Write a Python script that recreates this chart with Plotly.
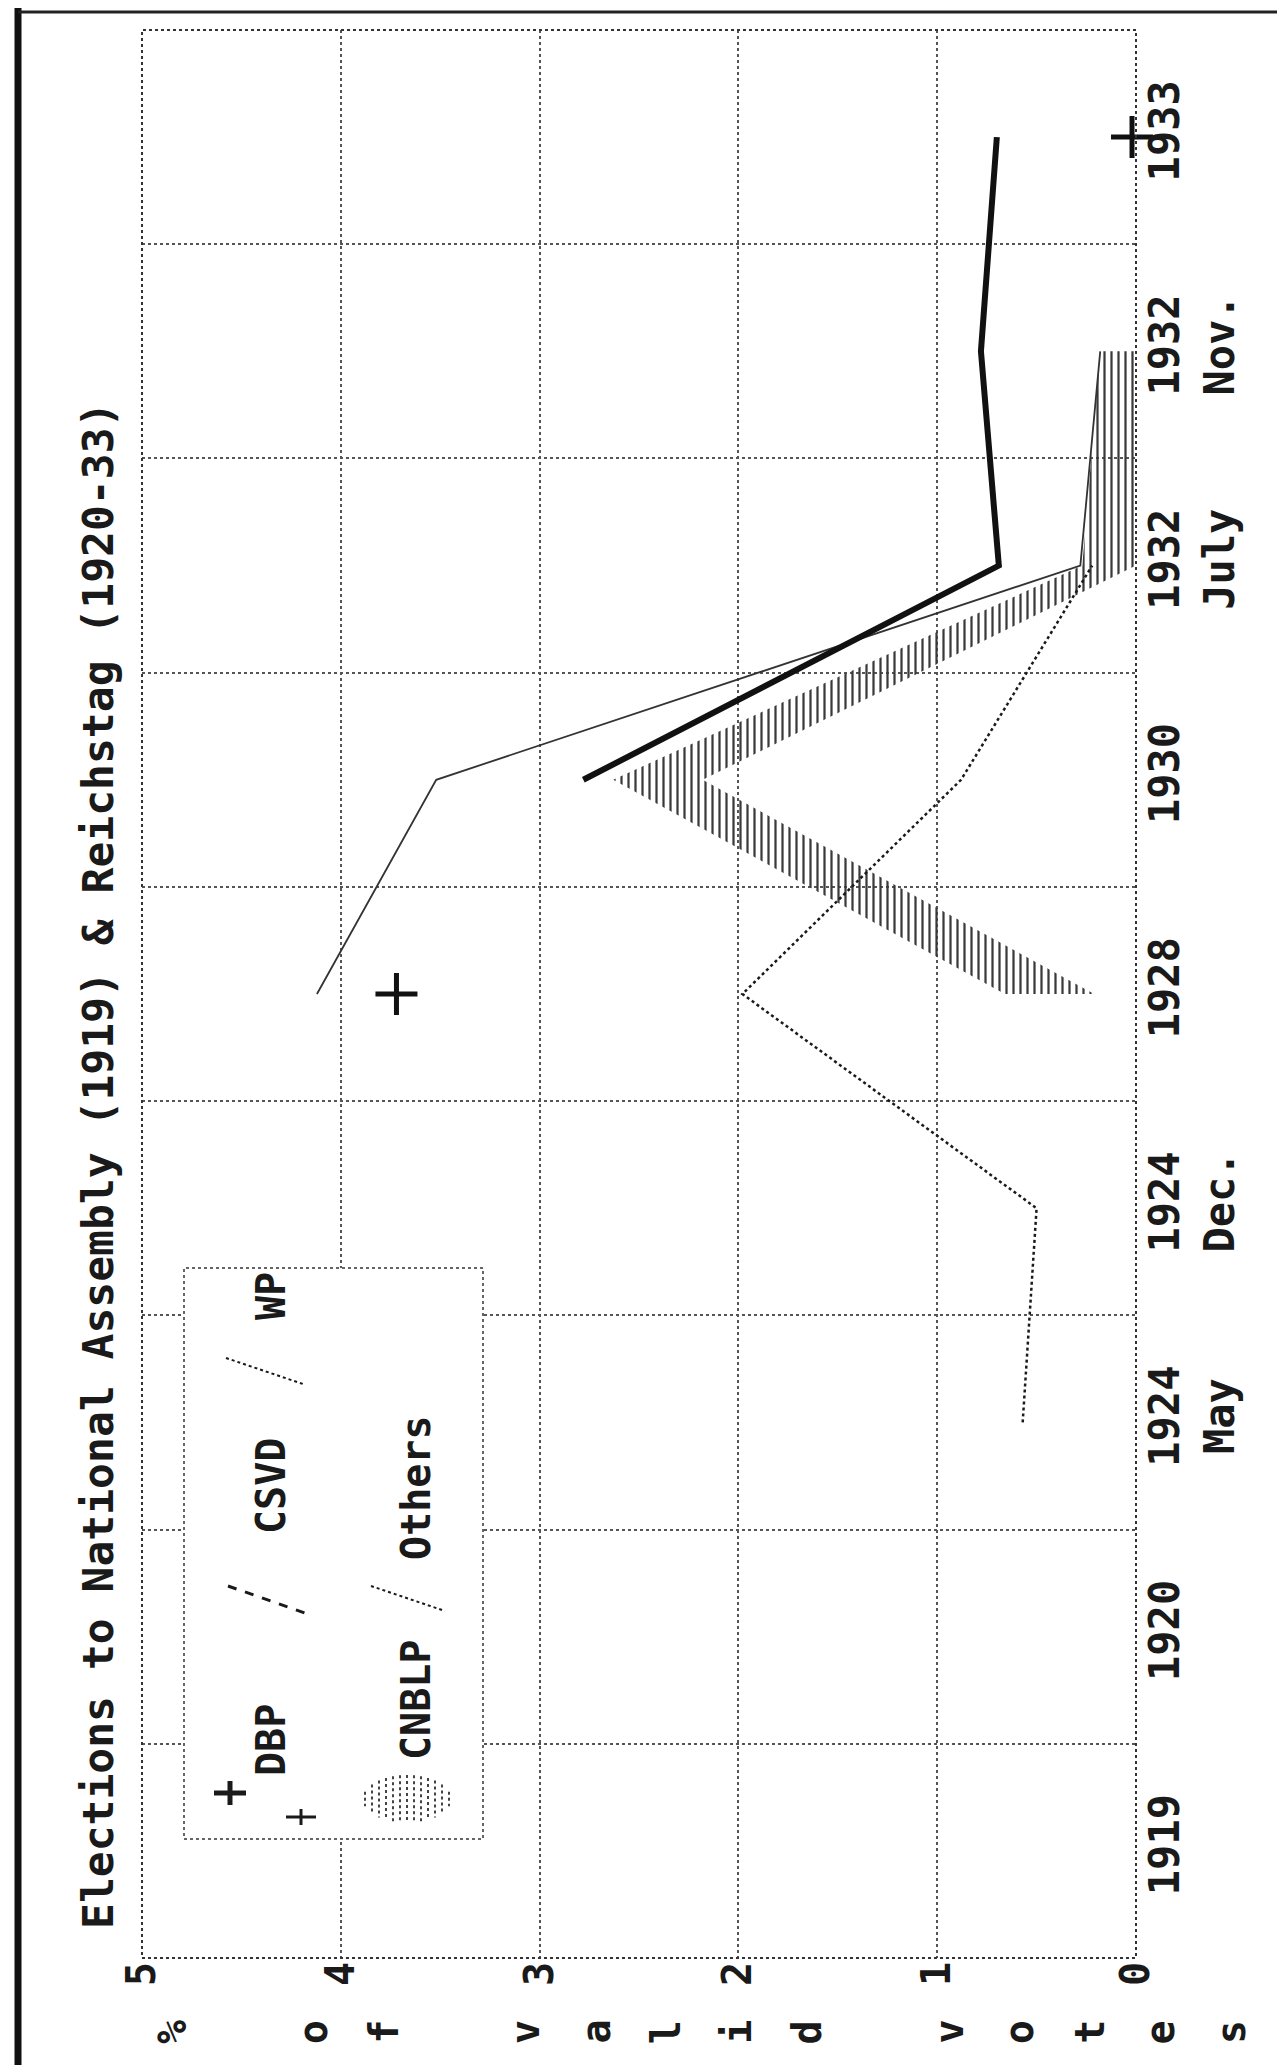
import plotly.graph_objects as go

# ---------------- data ----------------
elections = ["1919", "1920", "1924<br>May", "1924<br>Dec.", "1928", "1930",
             "1932<br>July", "1932<br>Nov.", "1933"]
dbp = [None, None, None, None, 3.72, None, None, None, 0.02]
csvd = [None, None, None, None, None, 2.78, 0.69, 0.78, 0.70]
wp = [None, None, None, None, 4.12, 3.52, 0.28, 0.18, None]
cnblp = [None, None, None, None, 0.66, 2.63, 0.27, 0.18, None]
others = [None, None, 0.57, 0.50, 1.98, 0.88, 0.22, None, None]
value_ticks = [5, 4, 3, 2, 1, 0]
axis_title = "% of valid votes"
title_text = "Elections to National Assembly (1919) & Reichstag (1920-33)"
legend_names = ["DBP", "CSVD", "WP", "CNBLP", "Others"]

# ---------------- layout geometry / style ----------------
W, H = 1285, 2065
L, R, T, B = 134, 1128, 22, 1950
FONT = "DejaVu Sans Mono, Liberation Mono, monospace"
INK = "#1a1a1a"
WEIGHT = "bold"
BAND = 0.45  # depth of the hatched CNBLP ribbon (style)

def fx(X):
    return (X - L) / (R - L)

def fy(Y):
    return (B - Y) / (B - T)

def tfont(size):
    return dict(family=FONT, size=size, color=INK, weight=WEIGHT)

pos = list(range(len(elections)))

fig = go.Figure()

# CNBLP hatched ribbon
idx = [i for i, v in enumerate(cnblp) if v is not None]
bx = [cnblp[i] for i in idx] + [max(cnblp[i] - BAND, 0) for i in reversed(idx)]
by = idx + idx[::-1]
fig.add_trace(go.Scatter(
    x=bx, y=by, mode="lines", fill="toself", name=legend_names[3],
    line=dict(width=0, color="rgba(0,0,0,0)"),
    fillcolor="rgba(0,0,0,0)",
    fillpattern=dict(shape="|", fgcolor="#3a3a3a", bgcolor="rgba(0,0,0,0)",
                     size=7, solidity=0.32, fillmode="replace"),
    showlegend=False, hoverinfo="skip"))

# Others (dotted)
fig.add_trace(go.Scatter(x=others, y=pos, mode="lines", name=legend_names[4],
                         line=dict(color=INK, width=2.5, dash="dot"),
                         showlegend=False))
# WP (thin)
fig.add_trace(go.Scatter(x=wp, y=pos, mode="lines", name=legend_names[2],
                         line=dict(color="#333333", width=1.8),
                         showlegend=False))
# CSVD (bold)
fig.add_trace(go.Scatter(x=csvd, y=pos, mode="lines", name=legend_names[1],
                         line=dict(color="#111111", width=6),
                         showlegend=False))
# DBP (+ markers)
fig.add_trace(go.Scatter(x=dbp, y=pos, mode="markers", name=legend_names[0],
                         marker=dict(symbol="cross-thin", size=30,
                                     line=dict(width=5, color="#111111")),
                         cliponaxis=False, showlegend=False))

grid = dict(griddash="dot", gridcolor="#555555", gridwidth=1.5)

fig.update_xaxes(range=[5, 0], tickmode="array", tickvals=value_ticks,
                 ticktext=[str(v) for v in value_ticks], tickangle=-90,
                 ticklabelstandoff=-5,
                 showgrid=True, zeroline=False, showline=False, ticks="",
                 tickfont=tfont(40), **grid)
fig.update_yaxes(range=[-0.5, len(elections) - 0.5], tickmode="array",
                 tickvals=pos, ticktext=elections, side="right", tickangle=-90,
                 showgrid=False, zeroline=False, showline=False, ticks="",
                 tickfont=tfont(42),
                 minor=dict(tickmode="array",
                            tickvals=[i + 0.5 for i in pos[:-1]],
                            showgrid=True, ticks="", **grid))

shapes = []
# plot frame (dotted)
shapes.append(dict(type="rect", xref="paper", yref="paper", x0=0, x1=1, y0=0, y1=1,
                   line=dict(color="#333333", width=2, dash="dot")))
# legend box
shapes.append(dict(type="rect", xref="paper", yref="paper",
                   x0=fx(176), x1=fx(475), y0=fy(1831), y1=fy(1260),
                   fillcolor="white", layer="above",
                   line=dict(color="#333333", width=1.5, dash="dot")))

def seg(x0, y0, x1, y1, width, dash="solid", color=INK):
    return dict(type="line", xref="paper", yref="paper", layer="above",
                x0=fx(x0), y0=fy(y0), x1=fx(x1), y1=fy(y1),
                line=dict(color=color, width=width, dash=dash))

# legend symbols
shapes += [seg(206, 1785, 238, 1785, 5), seg(222, 1773, 222, 1797, 5)]   # bold +
shapes += [seg(278, 1809, 308, 1809, 3), seg(293, 1801, 293, 1817, 3)]   # small +
shapes.append(seg(220, 1578, 297, 1605, 3, "dash"))                       # CSVD
shapes.append(seg(218, 1350, 295, 1376, 2, "dot"))                        # WP
shapes.append(seg(363, 1578, 437, 1603, 2, "dot"))                        # Others
# hatch swatch (lens of vertical dotted strokes)
cx, cy, hw, hh = 399, 1791, 44, 24
for k in range(-6, 7):
    xx = cx + k * 7
    frac = max(0.0, 1 - (k * 7 / hw) ** 2)
    hgt = hh * frac ** 0.5
    if hgt > 2:
        shapes.append(seg(xx, cy - hgt, xx, cy + hgt, 2, "dot", "#444444"))

# outer page frame
shapes.append(seg(10, 0, 10, H, 7, color="#111111"))
shapes.append(seg(10, 4, W, 4, 3, color="#222222"))
shapes.append(seg(10, 2062, W, 2062, 3, "dash", "#222222"))

annotations = []
# title
annotations.append(dict(xref="paper", yref="paper", x=fx(90), y=fy(1158),
                        text=title_text, showarrow=False, textangle=-90,
                        xanchor="center", yanchor="middle", font=tfont(43)))
# legend texts
for name, (X, Y) in zip(legend_names, [(263, 1732), (263, 1478), (263, 1288),
                                       (408, 1692), (408, 1480)]):
    annotations.append(dict(xref="paper", yref="paper", x=fx(X), y=fy(Y),
                            text=name, showarrow=False, textangle=-90,
                            xanchor="center", yanchor="middle", font=tfont(40)))
# axis title: one rotated glyph per character cell
for i, ch in enumerate(axis_title):
    if ch == " ":
        continue
    annotations.append(dict(xref="paper", yref="paper", x=fx(164 + 70.6 * i),
                            y=fy(2024), text=ch, showarrow=False, textangle=-90,
                            xanchor="center", yanchor="middle", font=tfont(40)))

fig.update_layout(width=W, height=H, paper_bgcolor="white", plot_bgcolor="white",
                  margin=dict(l=L, r=W - R, t=T, b=H - B, autoexpand=False),
                  shapes=shapes, annotations=annotations, showlegend=False,
                  font=dict(family=FONT, color=INK))

fig.write_html("out.html")
